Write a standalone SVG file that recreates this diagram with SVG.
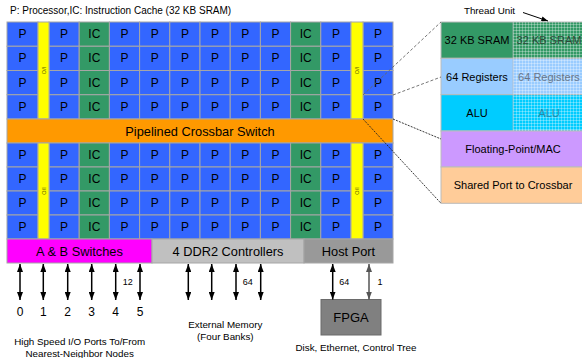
<svg xmlns="http://www.w3.org/2000/svg" width="582" height="358" viewBox="0 0 582 358">
<style>
text{font-family:"Liberation Sans",Arial,sans-serif;text-anchor:middle;dominant-baseline:central;fill:#000}
.c rect{stroke:#A6A6A6;stroke-width:1}
.p rect{fill:#3366FF}
.ic rect{fill:#339966}
.c text{font-size:12px}
.io rect{fill:#FFFF00;stroke:#A6A6A6;stroke-width:1}
.io text{font-size:5.5px;fill:#666600}
.bar rect{stroke:#A6A6A6;stroke-width:1}
.bar text{font-size:12.8px}
.sm{font-size:9.8px}
.num{font-size:12px}
.lab{font-size:9px}
.tu rect{stroke:#BBBBBB;stroke-width:1}
.tu text{font-size:11px}
.arr{stroke:#000;stroke-width:1.5;fill:none;marker-start:url(#ah);marker-end:url(#ah)}
.arrg{stroke:#555;stroke-width:1.5;fill:none;marker-start:url(#ahg);marker-end:url(#ahg)}
.dg{stroke:#666;stroke-width:0.9;stroke-dasharray:3 2;fill:none}
.dk{stroke:#222;stroke-width:0.9;stroke-dasharray:2 1.2;fill:none}
</style>
<defs>
<marker id="ah" viewBox="0 0 8 6" refX="8" refY="3" markerWidth="8" markerHeight="6" markerUnits="userSpaceOnUse" orient="auto-start-reverse"><path d="M0,0 L8,3 L0,6 z" fill="#000"/></marker>
<marker id="ahg" viewBox="0 0 8 6" refX="8" refY="3" markerWidth="8" markerHeight="6" markerUnits="userSpaceOnUse" orient="auto-start-reverse"><path d="M0,0 L8,3 L0,6 z" fill="#555"/></marker>
<marker id="ahs" viewBox="0 0 8 6" refX="8" refY="3" markerWidth="7" markerHeight="5" markerUnits="userSpaceOnUse" orient="auto"><path d="M0,0 L8,3 L0,6 z" fill="#000"/></marker>
<pattern id="hatch" width="3" height="3" patternUnits="userSpaceOnUse">
<path d="M0,0.5 H3 M0.5,0 V3" stroke="#FFFFFF" stroke-opacity="0.38" stroke-width="0.8"/>
</pattern>
</defs>
<rect width="582" height="358" fill="#FFFFFF"/>
<text x="10" y="10" style="text-anchor:start;font-size:10px">P: Processor,IC: Instruction Cache (32 KB SRAM)</text>

<!-- upper grid -->
<g id="grid-upper">
<g id="u0-0" class="c p"><rect x="7" y="22" width="31" height="24.25"/><text x="22.5" y="34.1">P</text></g>
<g id="u0-1" class="c p"><rect x="49" y="22" width="30.2" height="24.25"/><text x="64.1" y="34.1">P</text></g>
<g id="u0-2" class="c ic"><rect x="79.2" y="22" width="30.2" height="24.25"/><text x="94.3" y="34.1">IC</text></g>
<g id="u0-3" class="c p"><rect x="109.4" y="22" width="30.2" height="24.25"/><text x="124.5" y="34.1">P</text></g>
<g id="u0-4" class="c p"><rect x="139.6" y="22" width="30.2" height="24.25"/><text x="154.7" y="34.1">P</text></g>
<g id="u0-5" class="c p"><rect x="169.8" y="22" width="30.2" height="24.25"/><text x="184.9" y="34.1">P</text></g>
<g id="u0-6" class="c p"><rect x="200" y="22" width="30.2" height="24.25"/><text x="215.1" y="34.1">P</text></g>
<g id="u0-7" class="c p"><rect x="230.2" y="22" width="30.2" height="24.25"/><text x="245.3" y="34.1">P</text></g>
<g id="u0-8" class="c p"><rect x="260.4" y="22" width="30.2" height="24.25"/><text x="275.5" y="34.1">P</text></g>
<g id="u0-9" class="c ic"><rect x="290.6" y="22" width="30.2" height="24.25"/><text x="305.7" y="34.1">IC</text></g>
<g id="u0-10" class="c p"><rect x="320.8" y="22" width="30.2" height="24.25"/><text x="335.9" y="34.1">P</text></g>
<g id="u0-11" class="c p"><rect x="363" y="22" width="30" height="24.25"/><text x="378" y="34.1">P</text></g>

<g id="u1-0" class="c p"><rect x="7" y="46.25" width="31" height="24.25"/><text x="22.5" y="58.4">P</text></g>
<g id="u1-1" class="c p"><rect x="49" y="46.25" width="30.2" height="24.25"/><text x="64.1" y="58.4">P</text></g>
<g id="u1-2" class="c ic"><rect x="79.2" y="46.25" width="30.2" height="24.25"/><text x="94.3" y="58.4">IC</text></g>
<g id="u1-3" class="c p"><rect x="109.4" y="46.25" width="30.2" height="24.25"/><text x="124.5" y="58.4">P</text></g>
<g id="u1-4" class="c p"><rect x="139.6" y="46.25" width="30.2" height="24.25"/><text x="154.7" y="58.4">P</text></g>
<g id="u1-5" class="c p"><rect x="169.8" y="46.25" width="30.2" height="24.25"/><text x="184.9" y="58.4">P</text></g>
<g id="u1-6" class="c p"><rect x="200" y="46.25" width="30.2" height="24.25"/><text x="215.1" y="58.4">P</text></g>
<g id="u1-7" class="c p"><rect x="230.2" y="46.25" width="30.2" height="24.25"/><text x="245.3" y="58.4">P</text></g>
<g id="u1-8" class="c p"><rect x="260.4" y="46.25" width="30.2" height="24.25"/><text x="275.5" y="58.4">P</text></g>
<g id="u1-9" class="c ic"><rect x="290.6" y="46.25" width="30.2" height="24.25"/><text x="305.7" y="58.4">IC</text></g>
<g id="u1-10" class="c p"><rect x="320.8" y="46.25" width="30.2" height="24.25"/><text x="335.9" y="58.4">P</text></g>
<g id="u1-11" class="c p"><rect x="363" y="46.25" width="30" height="24.25"/><text x="378" y="58.4">P</text></g>

<g id="u2-0" class="c p"><rect x="7" y="70.5" width="31" height="24.25"/><text x="22.5" y="82.6">P</text></g>
<g id="u2-1" class="c p"><rect x="49" y="70.5" width="30.2" height="24.25"/><text x="64.1" y="82.6">P</text></g>
<g id="u2-2" class="c ic"><rect x="79.2" y="70.5" width="30.2" height="24.25"/><text x="94.3" y="82.6">IC</text></g>
<g id="u2-3" class="c p"><rect x="109.4" y="70.5" width="30.2" height="24.25"/><text x="124.5" y="82.6">P</text></g>
<g id="u2-4" class="c p"><rect x="139.6" y="70.5" width="30.2" height="24.25"/><text x="154.7" y="82.6">P</text></g>
<g id="u2-5" class="c p"><rect x="169.8" y="70.5" width="30.2" height="24.25"/><text x="184.9" y="82.6">P</text></g>
<g id="u2-6" class="c p"><rect x="200" y="70.5" width="30.2" height="24.25"/><text x="215.1" y="82.6">P</text></g>
<g id="u2-7" class="c p"><rect x="230.2" y="70.5" width="30.2" height="24.25"/><text x="245.3" y="82.6">P</text></g>
<g id="u2-8" class="c p"><rect x="260.4" y="70.5" width="30.2" height="24.25"/><text x="275.5" y="82.6">P</text></g>
<g id="u2-9" class="c ic"><rect x="290.6" y="70.5" width="30.2" height="24.25"/><text x="305.7" y="82.6">IC</text></g>
<g id="u2-10" class="c p"><rect x="320.8" y="70.5" width="30.2" height="24.25"/><text x="335.9" y="82.6">P</text></g>
<g id="u2-11" class="c p"><rect x="363" y="70.5" width="30" height="24.25"/><text x="378" y="82.6">P</text></g>

<g id="u3-0" class="c p"><rect x="7" y="94.75" width="31" height="24.25"/><text x="22.5" y="106.9">P</text></g>
<g id="u3-1" class="c p"><rect x="49" y="94.75" width="30.2" height="24.25"/><text x="64.1" y="106.9">P</text></g>
<g id="u3-2" class="c ic"><rect x="79.2" y="94.75" width="30.2" height="24.25"/><text x="94.3" y="106.9">IC</text></g>
<g id="u3-3" class="c p"><rect x="109.4" y="94.75" width="30.2" height="24.25"/><text x="124.5" y="106.9">P</text></g>
<g id="u3-4" class="c p"><rect x="139.6" y="94.75" width="30.2" height="24.25"/><text x="154.7" y="106.9">P</text></g>
<g id="u3-5" class="c p"><rect x="169.8" y="94.75" width="30.2" height="24.25"/><text x="184.9" y="106.9">P</text></g>
<g id="u3-6" class="c p"><rect x="200" y="94.75" width="30.2" height="24.25"/><text x="215.1" y="106.9">P</text></g>
<g id="u3-7" class="c p"><rect x="230.2" y="94.75" width="30.2" height="24.25"/><text x="245.3" y="106.9">P</text></g>
<g id="u3-8" class="c p"><rect x="260.4" y="94.75" width="30.2" height="24.25"/><text x="275.5" y="106.9">P</text></g>
<g id="u3-9" class="c ic"><rect x="290.6" y="94.75" width="30.2" height="24.25"/><text x="305.7" y="106.9">IC</text></g>
<g id="u3-10" class="c p"><rect x="320.8" y="94.75" width="30.2" height="24.25"/><text x="335.9" y="106.9">P</text></g>
<g id="u3-11" class="c p"><rect x="363" y="94.75" width="30" height="24.25"/><text x="378" y="106.9">P</text></g>

<g id="io-ul" class="io"><rect x="38" y="22" width="11" height="97"/><text transform="translate(43.5,70.5) rotate(90)">I/O</text></g>
<g id="io-ur" class="io"><rect x="351" y="22" width="12" height="97"/><text transform="translate(357,70.5) rotate(90)">I/O</text></g>
</g>

<g id="crossbar" class="bar"><rect x="7" y="119" width="386" height="24" fill="#FF9900"/><text x="200" y="131">Pipelined Crossbar Switch</text></g>

<!-- lower grid -->
<g id="grid-lower">
<g id="l0-0" class="c p"><rect x="7" y="143" width="31" height="24"/><text x="22.5" y="155">P</text></g>
<g id="l0-1" class="c p"><rect x="49" y="143" width="30.2" height="24"/><text x="64.1" y="155">P</text></g>
<g id="l0-2" class="c ic"><rect x="79.2" y="143" width="30.2" height="24"/><text x="94.3" y="155">IC</text></g>
<g id="l0-3" class="c p"><rect x="109.4" y="143" width="30.2" height="24"/><text x="124.5" y="155">P</text></g>
<g id="l0-4" class="c p"><rect x="139.6" y="143" width="30.2" height="24"/><text x="154.7" y="155">P</text></g>
<g id="l0-5" class="c p"><rect x="169.8" y="143" width="30.2" height="24"/><text x="184.9" y="155">P</text></g>
<g id="l0-6" class="c p"><rect x="200" y="143" width="30.2" height="24"/><text x="215.1" y="155">P</text></g>
<g id="l0-7" class="c p"><rect x="230.2" y="143" width="30.2" height="24"/><text x="245.3" y="155">P</text></g>
<g id="l0-8" class="c p"><rect x="260.4" y="143" width="30.2" height="24"/><text x="275.5" y="155">P</text></g>
<g id="l0-9" class="c ic"><rect x="290.6" y="143" width="30.2" height="24"/><text x="305.7" y="155">IC</text></g>
<g id="l0-10" class="c p"><rect x="320.8" y="143" width="30.2" height="24"/><text x="335.9" y="155">P</text></g>
<g id="l0-11" class="c p"><rect x="363" y="143" width="30" height="24"/><text x="378" y="155">P</text></g>

<g id="l1-0" class="c p"><rect x="7" y="167" width="31" height="24"/><text x="22.5" y="179">P</text></g>
<g id="l1-1" class="c p"><rect x="49" y="167" width="30.2" height="24"/><text x="64.1" y="179">P</text></g>
<g id="l1-2" class="c ic"><rect x="79.2" y="167" width="30.2" height="24"/><text x="94.3" y="179">IC</text></g>
<g id="l1-3" class="c p"><rect x="109.4" y="167" width="30.2" height="24"/><text x="124.5" y="179">P</text></g>
<g id="l1-4" class="c p"><rect x="139.6" y="167" width="30.2" height="24"/><text x="154.7" y="179">P</text></g>
<g id="l1-5" class="c p"><rect x="169.8" y="167" width="30.2" height="24"/><text x="184.9" y="179">P</text></g>
<g id="l1-6" class="c p"><rect x="200" y="167" width="30.2" height="24"/><text x="215.1" y="179">P</text></g>
<g id="l1-7" class="c p"><rect x="230.2" y="167" width="30.2" height="24"/><text x="245.3" y="179">P</text></g>
<g id="l1-8" class="c p"><rect x="260.4" y="167" width="30.2" height="24"/><text x="275.5" y="179">P</text></g>
<g id="l1-9" class="c ic"><rect x="290.6" y="167" width="30.2" height="24"/><text x="305.7" y="179">IC</text></g>
<g id="l1-10" class="c p"><rect x="320.8" y="167" width="30.2" height="24"/><text x="335.9" y="179">P</text></g>
<g id="l1-11" class="c p"><rect x="363" y="167" width="30" height="24"/><text x="378" y="179">P</text></g>

<g id="l2-0" class="c p"><rect x="7" y="191" width="31" height="24"/><text x="22.5" y="203">P</text></g>
<g id="l2-1" class="c p"><rect x="49" y="191" width="30.2" height="24"/><text x="64.1" y="203">P</text></g>
<g id="l2-2" class="c ic"><rect x="79.2" y="191" width="30.2" height="24"/><text x="94.3" y="203">IC</text></g>
<g id="l2-3" class="c p"><rect x="109.4" y="191" width="30.2" height="24"/><text x="124.5" y="203">P</text></g>
<g id="l2-4" class="c p"><rect x="139.6" y="191" width="30.2" height="24"/><text x="154.7" y="203">P</text></g>
<g id="l2-5" class="c p"><rect x="169.8" y="191" width="30.2" height="24"/><text x="184.9" y="203">P</text></g>
<g id="l2-6" class="c p"><rect x="200" y="191" width="30.2" height="24"/><text x="215.1" y="203">P</text></g>
<g id="l2-7" class="c p"><rect x="230.2" y="191" width="30.2" height="24"/><text x="245.3" y="203">P</text></g>
<g id="l2-8" class="c p"><rect x="260.4" y="191" width="30.2" height="24"/><text x="275.5" y="203">P</text></g>
<g id="l2-9" class="c ic"><rect x="290.6" y="191" width="30.2" height="24"/><text x="305.7" y="203">IC</text></g>
<g id="l2-10" class="c p"><rect x="320.8" y="191" width="30.2" height="24"/><text x="335.9" y="203">P</text></g>
<g id="l2-11" class="c p"><rect x="363" y="191" width="30" height="24"/><text x="378" y="203">P</text></g>

<g id="l3-0" class="c p"><rect x="7" y="215" width="31" height="24"/><text x="22.5" y="227">P</text></g>
<g id="l3-1" class="c p"><rect x="49" y="215" width="30.2" height="24"/><text x="64.1" y="227">P</text></g>
<g id="l3-2" class="c ic"><rect x="79.2" y="215" width="30.2" height="24"/><text x="94.3" y="227">IC</text></g>
<g id="l3-3" class="c p"><rect x="109.4" y="215" width="30.2" height="24"/><text x="124.5" y="227">P</text></g>
<g id="l3-4" class="c p"><rect x="139.6" y="215" width="30.2" height="24"/><text x="154.7" y="227">P</text></g>
<g id="l3-5" class="c p"><rect x="169.8" y="215" width="30.2" height="24"/><text x="184.9" y="227">P</text></g>
<g id="l3-6" class="c p"><rect x="200" y="215" width="30.2" height="24"/><text x="215.1" y="227">P</text></g>
<g id="l3-7" class="c p"><rect x="230.2" y="215" width="30.2" height="24"/><text x="245.3" y="227">P</text></g>
<g id="l3-8" class="c p"><rect x="260.4" y="215" width="30.2" height="24"/><text x="275.5" y="227">P</text></g>
<g id="l3-9" class="c ic"><rect x="290.6" y="215" width="30.2" height="24"/><text x="305.7" y="227">IC</text></g>
<g id="l3-10" class="c p"><rect x="320.8" y="215" width="30.2" height="24"/><text x="335.9" y="227">P</text></g>
<g id="l3-11" class="c p"><rect x="363" y="215" width="30" height="24"/><text x="378" y="227">P</text></g>

<g id="io-ll" class="io"><rect x="38" y="143" width="11" height="96"/><text transform="translate(43.5,191) rotate(90)">I/O</text></g>
<g id="io-lr" class="io"><rect x="351" y="143" width="12" height="96"/><text transform="translate(357,191) rotate(90)">I/O</text></g>
</g>

<g id="ab-switches" class="bar"><rect x="7" y="239" width="145" height="24" fill="#FF00FF"/><text x="79.5" y="251">A &amp; B Switches</text></g>
<g id="ddr2" class="bar"><rect x="152" y="239" width="152" height="24" fill="#C0C0C0"/><text x="228" y="251">4 DDR2 Controllers</text></g>
<g id="host-port" class="bar"><rect x="304" y="239" width="89" height="24" fill="#999999"/><text x="348.5" y="251">Host Port</text></g>

<g id="fpga"><rect x="321" y="299.5" width="60" height="35.5" fill="#808080" stroke="#6A6A6A" stroke-width="1"/><text x="351" y="317.5" style="font-size:13px">FPGA</text></g>

<!-- thread unit -->
<g id="thread-unit" class="tu">
<rect x="441" y="22" width="145" height="36.3" fill="#339966"/>
<rect x="441" y="58.3" width="145" height="36.4" fill="#99CCFF"/>
<rect x="441" y="94.7" width="145" height="36.3" fill="#00CCFF"/>
<rect x="441" y="131" width="145" height="36" fill="#CC99FF"/>
<rect x="441" y="167" width="145" height="36.3" fill="#FFCC99"/>
<text x="477" y="40.2">32 KB SRAM</text>
<text x="477" y="76.6">64 Registers</text>
<text x="477" y="112.8">ALU</text>
<rect x="513" y="22" width="73" height="109" fill="url(#hatch)" style="stroke:none"/>
<text x="549" y="40.2" style="fill:#2c4a38">32 KB SRAM</text>
<text x="549" y="76.6" style="fill:#6a7688">64 Registers</text>
<text x="549" y="112.8" style="fill:#2a8aa6">ALU</text>
<line x1="513" y1="22" x2="513" y2="131" stroke="#BBBBBB" stroke-width="0.6"/>
<text x="513" y="149.2">Floating-Point/MAC</text>
<text x="513" y="185.2">Shared Port to Crossbar</text>
</g>
<text x="489.5" y="10.3" class="sm">Thread Unit</text>

<g id="connectors">
<line x1="523" y1="12.5" x2="548" y2="21" stroke="#000" stroke-width="1" marker-end="url(#ahs)"/>
<line class="dg" x1="363" y1="95" x2="441" y2="22"/>
<line class="dg" x1="393" y1="95" x2="441" y2="77"/>
<line class="dk" x1="393" y1="119" x2="441" y2="139"/>
<line class="dk" x1="363" y1="119" x2="441" y2="203.3"/>
<line class="arr" x1="20" y1="264" x2="20" y2="300"/>
<line class="arr" x1="43.3" y1="264" x2="43.3" y2="300"/>
<line class="arr" x1="67.7" y1="264" x2="67.7" y2="300"/>
<line class="arr" x1="91.7" y1="264" x2="91.7" y2="300"/>
<line class="arr" x1="115.7" y1="264" x2="115.7" y2="300"/>
<line class="arr" x1="140" y1="264" x2="140" y2="300"/>
<line class="arr" x1="188.3" y1="264" x2="188.3" y2="300"/>
<line class="arr" x1="211.7" y1="264" x2="211.7" y2="300"/>
<line class="arr" x1="236" y1="264" x2="236" y2="300"/>
<line class="arr" x1="260.7" y1="264" x2="260.7" y2="300"/>
<line class="arr" x1="332.7" y1="264" x2="332.7" y2="299.5"/>
<line class="arrg" x1="369" y1="264" x2="369" y2="299.5"/>
</g>

<g id="labels">
<text class="lab" x="127.7" y="281.7">12</text>
<text class="lab" x="247.7" y="281.7">64</text>
<text class="lab" x="344.3" y="281.7">64</text>
<text class="lab" x="380" y="281.7">1</text>
<text class="num" x="20" y="311.7">0</text>
<text class="num" x="43.3" y="311.7">1</text>
<text class="num" x="67.7" y="311.7">2</text>
<text class="num" x="91.7" y="311.7">3</text>
<text class="num" x="115.7" y="311.7">4</text>
<text class="num" x="140" y="311.7">5</text>
<text class="sm" x="225.3" y="324">External Memory</text>
<text class="sm" x="225.3" y="336.5">(Four Banks)</text>
<text class="sm" x="79.7" y="341">High Speed I/O Ports To/From</text>
<text class="sm" x="79.7" y="353.8">Nearest-Neighbor Nodes</text>
<text class="sm" x="356" y="347.5">Disk, Ethernet, Control Tree</text>
</g>
</svg>
